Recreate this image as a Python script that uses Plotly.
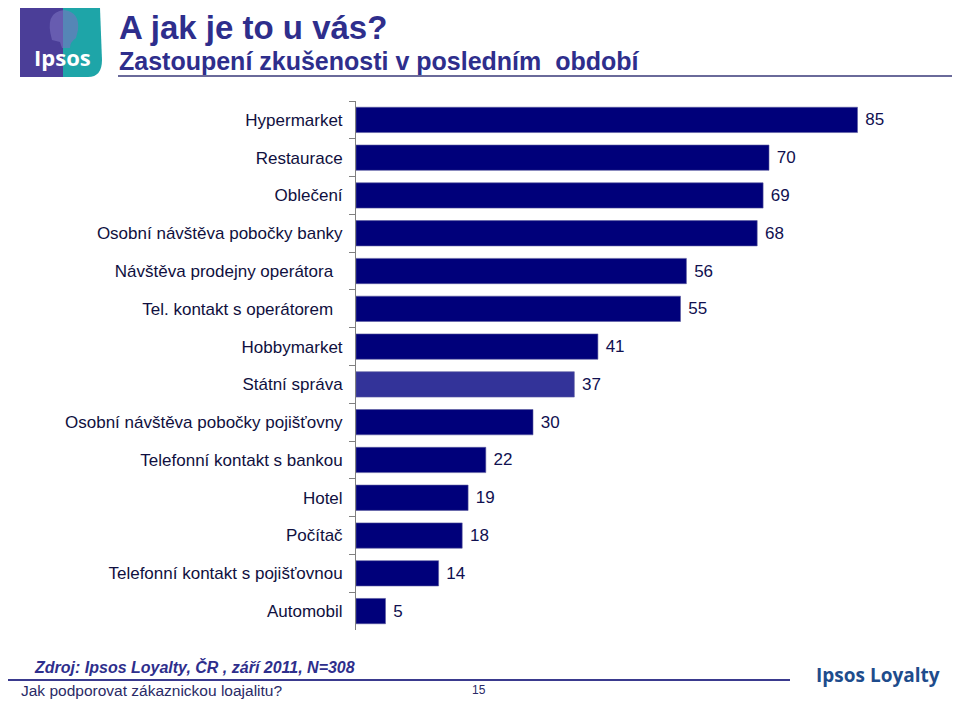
import plotly.graph_objects as go

# data
categories = ['Hypermarket', 'Restaurace', 'Oblečení', 'Osobní návštěva pobočky banky',
              'Návštěva prodejny operátora  ', 'Tel. kontakt s operátorem  ', 'Hobbymarket',
              'Státní správa', 'Osobní návštěva pobočky pojišťovny', 'Telefonní kontakt s bankou',
              'Hotel', 'Počítač', 'Telefonní kontakt s pojišťovnou', 'Automobil']
values = [85, 70, 69, 68, 56, 55, 41, 37, 30, 22, 19, 18, 14, 5]
highlight = 'Státní správa'

# the page body has an 8px margin, so the figure is drawn 8px in from the window corner
OFF = 8
W, H = 960 - OFF, 701 - OFF


def px(x):
    return (x - OFF) / W


def py(y):
    return 1 - (y - OFF) / H


def pth(*cmds):
    # cmds: ('M', x, y), ('Q', cx, cy, x, y), ('L', x, y) in slide pixels
    out = []
    for c in cmds:
        pts = c[1:]
        conv = []
        for i in range(0, len(pts), 2):
            conv.append('%f %f' % (px(pts[i]), py(pts[i + 1])))
        out.append(c[0] + ' ' + ' '.join(conv))
    return ' '.join(out) + ' Z'


navy = '#00007a'
titleBlue = '#2e2e8c'
barColors = ['#333399' if c == highlight else navy for c in categories]

fig = go.Figure(go.Bar(
    x=values, y=categories, orientation='h',
    marker=dict(color=barColors, line=dict(color='#5a5aa0', width=0.6)),
    text=['\u00a0' + str(v) for v in values], textposition='outside',
    textfont=dict(size=17, color='#101050', family='Liberation Sans'),
    cliponaxis=False, hoverinfo='x+y'))

fig.update_layout(
    width=W, height=H, margin=dict(l=0, r=0, t=0, b=0),
    paper_bgcolor='white', plot_bgcolor='white', showlegend=False, bargap=0.33,
    font=dict(family='Liberation Sans', color='#101040'),
    xaxis=dict(domain=[px(356), px(946)], range=[0, 100], visible=False),
    yaxis=dict(domain=[py(630), py(101)], autorange='reversed', automargin=False,
               showline=True, linecolor='#808080', linewidth=1,
               ticks='outside', tickson='boundaries', ticklen=6, tickcolor='#808080',
               ticklabelstandoff=9,
               tickfont=dict(size=17, color='#101040'), showgrid=False),
)

shapes = []
# Ipsos logo block
shapes.append(dict(type='rect', xref='paper', yref='paper', x0=px(20), x1=px(64), y0=py(77), y1=py(OFF),
                   fillcolor='#4b3e98', line=dict(width=0), layer='above'))
shapes.append(dict(type='path', xref='paper', yref='paper',
                   path=pth(('M', 63, OFF), ('L', 100, OFF), ('L', 102, 60), ('Q', 102, 77, 88, 77),
                            ('L', 63, 77)),
                   fillcolor='#1ea5a8', line=dict(width=0), layer='above'))
# rough head silhouette
shapes.append(dict(type='path', xref='paper', yref='paper',
                   path=pth(('M', 52, 40), ('Q', 44, 12, 64, 10), ('Q', 80, 12, 78, 30), ('L', 76, 38),
                            ('Q', 70, 42, 70, 48), ('L', 62, 48), ('L', 60, 42)),
                   fillcolor='#7a72c0', line=dict(width=0), layer='above', opacity=0.6))
# title underline
shapes.append(dict(type='line', xref='paper', yref='paper', x0=px(118), x1=px(955), y0=py(76), y1=py(76),
                   line=dict(color='#6a6a9a', width=2)))
# footer line
shapes.append(dict(type='line', xref='paper', yref='paper', x0=0, x1=px(790), y0=py(680), y1=py(680),
                   line=dict(color='#3a3a8e', width=2)))
fig.update_layout(shapes=shapes)

annotations = [
    dict(text='<b>Ipsos</b>', x=px(62), y=py(57), font=dict(size=22, color='white', family='Open Sans'),
         xanchor='center', yanchor='middle'),
    dict(text='<b>A jak je to u vás?</b>', x=px(118), y=py(8), xanchor='left', yanchor='top',
         font=dict(size=33, color=titleBlue, family='Liberation Sans'), borderpad=0),
    dict(text='<b>Zastoupení zkušenosti v posledním  období</b>', x=px(118), y=py(61), xanchor='left',
         yanchor='middle', font=dict(size=25, color=titleBlue, family='Liberation Sans'), borderpad=0),
    dict(text='<b><i>Zdroj: Ipsos Loyalty, ČR , září 2011, N=308</i></b>', x=px(32), y=py(667), xanchor='left',
         yanchor='middle', font=dict(size=16, color=titleBlue, family='Liberation Sans')),
    dict(text='Jak podporovat zákaznickou loajalitu?', x=px(19), y=py(690), xanchor='left', yanchor='middle',
         font=dict(size=15.5, color='#2a2a66', family='Liberation Sans')),
    dict(text='15', x=px(479), y=py(690), xanchor='center', yanchor='middle',
         font=dict(size=12, color='#2a2a66', family='Liberation Sans')),
    dict(text='<b>Ipsos Loyalty</b>', x=px(878), y=py(675), xanchor='center', yanchor='middle',
         font=dict(size=19, color='#1e4c8c', family='Open Sans')),
]
for a in annotations:
    a.update(xref='paper', yref='paper', showarrow=False)
fig.update_layout(annotations=annotations)

fig.write_html('out.html')
